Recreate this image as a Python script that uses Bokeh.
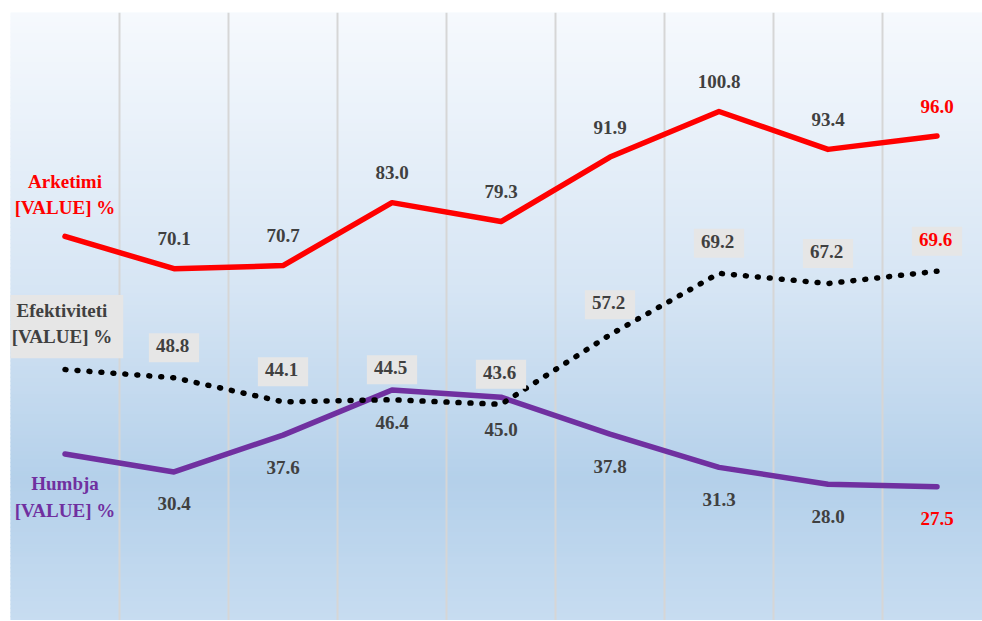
from bokeh.plotting import figure
from bokeh.models import Range1d, Grid, FixedTicker, ColumnDataSource
from bokeh.core.properties import value
from bokeh.embed import file_html
from bokeh.resources import INLINE

# ---- data ----
periods = list(range(9))
arketimi = [76.4, 70.1, 70.7, 83.0, 79.3, 91.9, 100.8, 93.4, 96.0]
efektiviteti = [50.4, 48.8, 44.1, 44.5, 43.6, 57.2, 69.2, 67.2, 69.6]
humbja = [33.9, 30.4, 37.6, 46.4, 45.0, 37.8, 31.3, 28.0, 27.5]
series_names = ["Arketimi\n[VALUE] %", "Efektiviteti\n[VALUE] %", "Humbja\n[VALUE] %"]

RED = "#ff0000"
PURPLE = "#7030a0"
GREY_TXT = "#404040"
BOX = "#e6e6e6"

W, H = 982, 620
BL, BT = 10, 12
FW, FH = W - BL, H - BT
PX_PER_UNIT = 5.12
Y0 = (627.1 - H) / PX_PER_UNIT
Y1 = Y0 + FH / PX_PER_UNIT
p = figure(width=W, height=H, output_backend="svg", toolbar_location=None,
           x_range=Range1d(-0.5, -0.5 + FW / 109), y_range=Range1d(Y0, Y1),
           x_axis_location=None, y_axis_location=None,
           min_border_left=BL, min_border_right=0, min_border_top=BT, min_border_bottom=0)
p.outline_line_color = None
p.background_fill_color = "white"
p.border_fill_color = "white"
p.xgrid.visible = False
p.ygrid.visible = False

# ---- gradient plot-area background ----
stops = [(0.0, (246, 249, 253)), (0.45, (214, 229, 244)), (0.76, (180, 208, 234)), (1.0, (200, 221, 241))]
def grad(f):
    for (f0, c0), (f1, c1) in zip(stops[:-1], stops[1:]):
        if f0 <= f <= f1:
            t = (f - f0) / (f1 - f0)
            return "#%02x%02x%02x" % tuple(int(round(a + (b - a) * t)) for a, b in zip(c0, c1))
    return "#%02x%02x%02x" % stops[-1][1]
n = 150
step = (Y1 - Y0) / n
bots = [Y0 + i * step for i in range(n)]
tops = [b + step for b in bots]
cols = [grad((Y1 - (b + step / 2)) / Y1) for b in bots]
p.quad(left=-0.5, right=len(periods) - 0.5, bottom=bots, top=tops, fill_color=cols,
       line_color=cols, line_width=1.5, level="image")

# ---- vertical category gridlines ----
grid = Grid(dimension=0, ticker=FixedTicker(ticks=[i - 0.5 for i in range(len(periods) + 1)]),
            grid_line_color="#d6d6d6", grid_line_width=2)
p.add_layout(grid)

# ---- lines ----
p.line(periods, arketimi, line_color=RED, line_width=5.5, line_join="round", line_cap="round")
p.line(periods, humbja, line_color=PURPLE, line_width=5.5, line_join="round", line_cap="round")
p.line(periods, efektiviteti, line_color="black", line_width=5.5, line_dash="1 11", line_cap="round")

# ---- data labels ----
def lbl_colors(vals, base):
    return [base] * (len(vals) - 2) + [RED]

common = dict(text_align="center", text_baseline="middle", text_font=value("Liberation Serif"),
              text_font_size="19px", text_font_style="bold")

src_a = ColumnDataSource(dict(x=periods[1:], y=arketimi[1:], t=[f"{v:.1f}" for v in arketimi[1:]],
                              c=lbl_colors(arketimi, GREY_TXT)))
p.text(x="x", y="y", text="t", text_color="c", source=src_a, y_offset=-30, **common)

src_h = ColumnDataSource(dict(x=periods[1:], y=humbja[1:], t=[f"{v:.1f}" for v in humbja[1:]],
                              c=lbl_colors(humbja, GREY_TXT)))
p.text(x="x", y="y", text="t", text_color="c", source=src_h, y_offset=32, **common)

src_e = ColumnDataSource(dict(x=periods[1:], y=efektiviteti[1:], t=[f"{v:.1f}" for v in efektiviteti[1:]],
                              c=lbl_colors(efektiviteti, GREY_TXT)))
p.text(x="x", y="y", text="t", text_color="c", source=src_e, y_offset=-30,
       background_fill_color=BOX, padding=(7, 10, 6, 10), **common)

# ---- series name labels at first point ----
p.text(x=[periods[0]], y=[arketimi[0]], text=[series_names[0]], y_offset=-42, text_color=RED,
       text_line_height=1.25, **common)
p.text(x=[periods[0]], y=[efektiviteti[0]], text=[series_names[1]], y_offset=-43, text_color=GREY_TXT,
       text_line_height=1.25, background_fill_color=BOX, padding=(5, 11, 5, 11), **common)
p.text(x=[periods[0]], y=[humbja[0]], text=[series_names[2]], y_offset=43, text_color=PURPLE,
       text_line_height=1.25, **common)

open("out.html", "w").write(file_html(p, INLINE))
